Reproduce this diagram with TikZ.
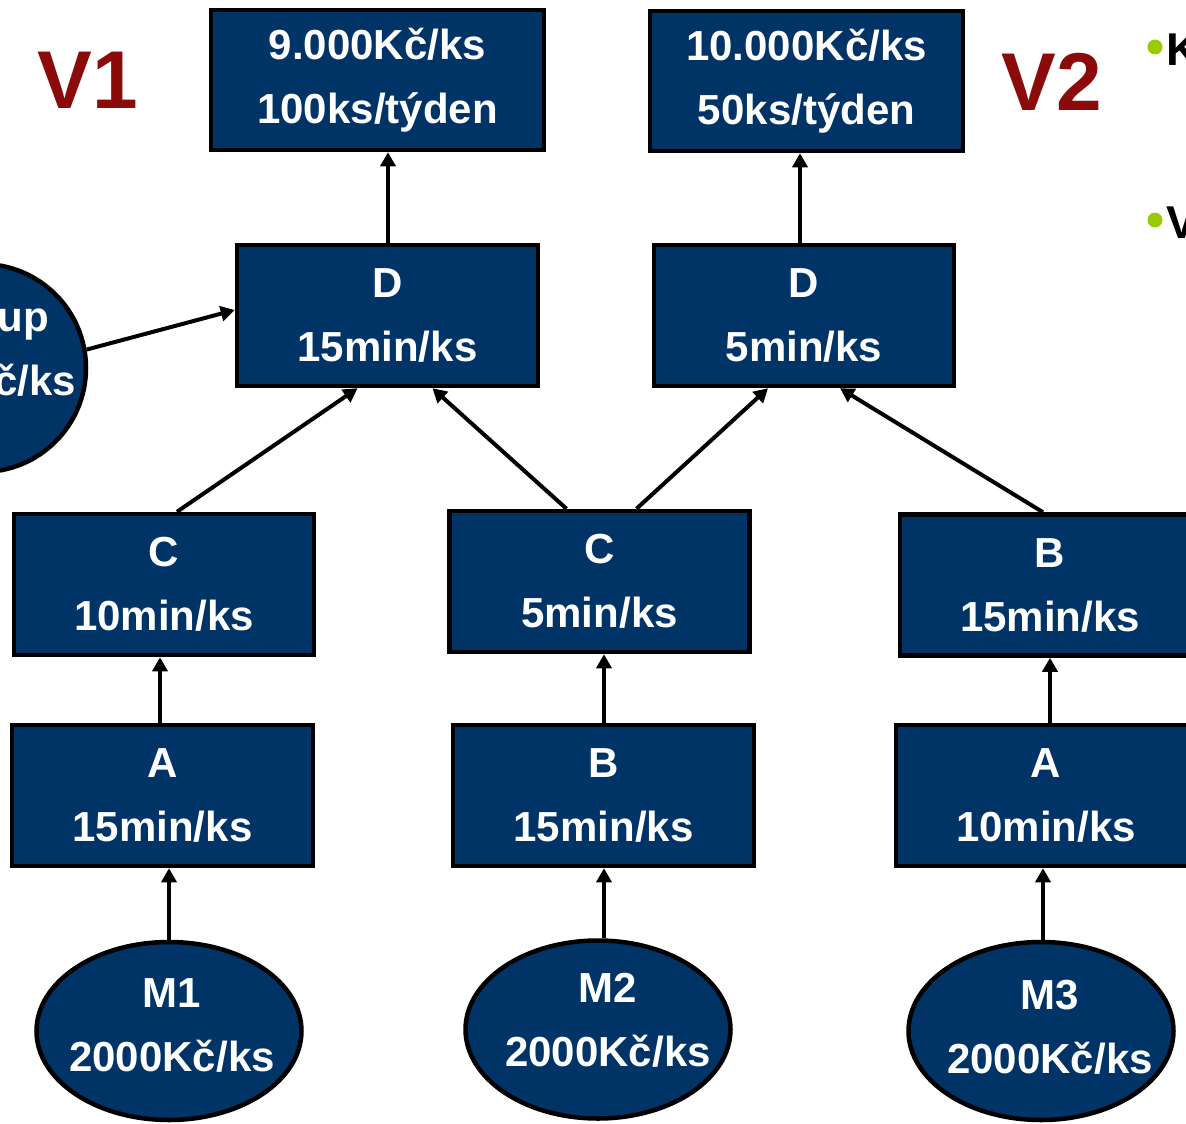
\documentclass[tikz,border=0pt]{standalone}
\usepackage{fontspec}
\setmainfont{Liberation Sans}
\usetikzlibrary{shapes.geometric,arrows.meta,calc}
\definecolor{navy}{HTML}{003366}
\definecolor{vred}{HTML}{8B0A0A}
\definecolor{bgreen}{HTML}{99CC00}
\begin{document}
\begin{tikzpicture}[x=1pt,y=-1pt,
  boxtext/.style={text=white, font=\bfseries\fontsize{42}{64}\selectfont, align=center, inner sep=0pt},
  box/.style={rectangle, draw=black, line width=4.5pt, fill=navy, boxtext,
    minimum width=300pt, minimum height=141pt},
  oval/.style={ellipse, draw=black, line width=4.5pt, fill=navy, inner sep=0pt,
    minimum width=265pt, minimum height=178pt},
  arr/.style={-{Triangle[length=14pt,width=15pt]}, line width=4pt, draw=black},
  vlabel/.style={text=vred, font=\bfseries\fontsize{82}{90}\selectfont, inner sep=0pt},
  bullettext/.style={text=black, font=\bfseries\fontsize{46}{50}\selectfont, inner sep=0pt, anchor=west}
]
\useasboundingbox (0,0) rectangle (1186,1124);
\clip (0,0) rectangle (1186,1124);

% top boxes
\node[box, minimum width=333pt, minimum height=140pt] (v1) at (377.5,80) {9.000Kč/ks\\100ks/týden};
\node[box, minimum width=313pt, minimum height=140pt] (v2) at (806.5,81) {10.000Kč/ks\\50ks/týden};

% D boxes
\node[box, minimum width=301pt] (d1) at (387.5,315.5) {D\\15min/ks};
\node[box] (d2) at (804,315.5) {D\\5min/ks};

% purchase circle (cut off)
\node[circle, draw=black, line width=4.5pt, fill=navy, inner sep=0pt,
  minimum size=208pt] (np) at (-18,368) {};
\node[boxtext] (npt) at (-15,349) {Nákup\\500Kč/ks};

% row C / B
\node[box] (c1) at (164,584.5) {C\\10min/ks};
\node[box] (c2) at (599.5,581.5) {C\\5min/ks};
\node[box] (b3) at (1050,585) {B\\15min/ks};

% row A / B
\node[box, minimum width=301pt] (a1) at (162.5,795.5) {A\\15min/ks};
\node[box, minimum width=301pt] (b2) at (603.5,795.5) {B\\15min/ks};
\node[box] (a3) at (1046,795.5) {A\\10min/ks};

% materials
\node[oval] (m1) at (169,1031) {};
\node[boxtext] (m1t) at (172,1025.5) {M1\\2000Kč/ks};
\node[oval] (m2) at (598,1029.5) {};
\node[boxtext] (m2t) at (608,1020.5) {M2\\2000Kč/ks};
\node[oval] (m3) at (1041,1031) {};
\node[boxtext] (m3t) at (1050,1027.5) {M3\\2000Kč/ks};

% labels
\node[vlabel] (lv1) at (88,80) {V1};
\node[vlabel] (lv2) at (1052,82) {V2};

% bullets
\fill[bgreen] (1155,47) circle (7.5pt);
\fill[bgreen] (1155,220) circle (7.5pt);
\node[bullettext] (bk) at (1166,50) {K};
\node[bullettext] (bv) at (1166,223) {V};

% anchor points for connectors
\coordinate (pa1) at ($(a1.north)+(-2.5,0)$);
\coordinate (pm2) at ($(b2.south)+(0.5,0)$);
\coordinate (pb2) at ($(b2.north)+(0.5,0)$);
\coordinate (pm3) at ($(m3.north)+(2,0)$);
\coordinate (pa3) at ($(a3.north)+(4,0)$);
\coordinate (pd2) at ($(d2.north)+(-4,0)$);
\coordinate (pd1) at ($(d1.north)+(0.5,0)$);

% connectors
\draw[arr] (m1.north) -- (m1.north |- a1.south);
\draw[arr] (pa1) -- (pa1 |- c1.south);
\draw[arr] (pm2 |- m2.north) -- (pm2);
\draw[arr] (pb2) -- (pb2 |- c2.south);
\draw[arr] (pm3) -- (pm3 |- a3.south);
\draw[arr] (pa3) -- (pa3 |- b3.south);

\draw[arr] ($(c1.north)+(13,0)$) -- ($(d1.south)+(-30,0)$);
\draw[arr] ($(c2.north)+(-33,0)$) -- ($(d1.south)+(45,0)$);
\draw[arr] ($(c2.north)+(37,0)$) -- ($(d2.south)+(-36,0)$);
\draw[arr] ($(b3.north)+(-7,0)$) -- ($(d2.south)+(36,0)$);

\draw[arr] (pd1) -- (pd1 |- v1.south);
\draw[arr] (pd2) -- (pd2 |- v2.south);

\draw[arr] (np.10) -- ($(d1.west)+(0,-5.5)$);
\end{tikzpicture}
\end{document}
